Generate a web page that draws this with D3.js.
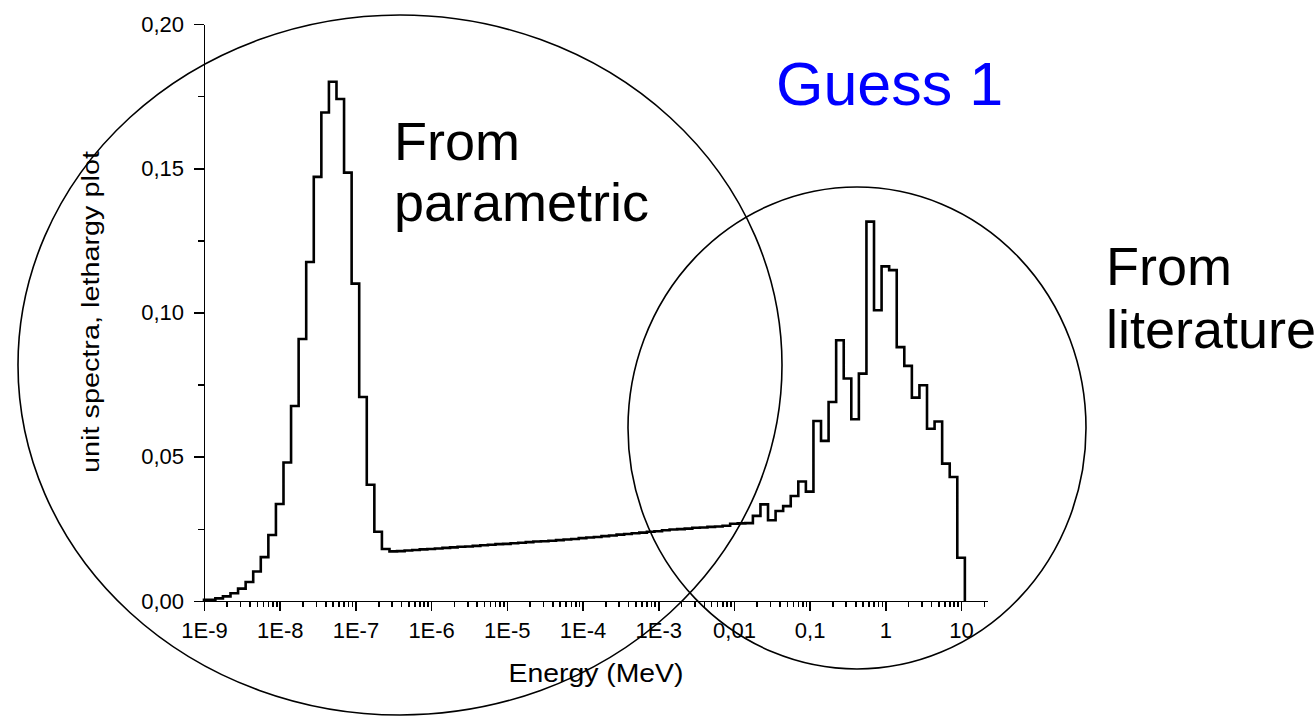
<!DOCTYPE html>
<html>
<head>
<meta charset="utf-8">
<script src="https://cdn.jsdelivr.net/npm/d3@7"></script>
<style>
  html, body { margin: 0; padding: 0; background: #fff; }
  svg { display: block; font-family: "Liberation Sans", Arial, sans-serif; }
  .axis path, .axis line { stroke: #000; stroke-width: 1.6px; shape-rendering: crispEdges; }
  .axis text { fill: #000; font-size: 22px; font-family: "Liberation Sans", Arial, sans-serif; }
</style>
</head>
<body>
<div id="chart"></div>
<script>
// histogram in lethargy, 0.1 decade bins, first edge shifted a bit off the decade
const binStartExp = -8.95;
const binWidthDec = 0.1;
const energyMin = 1e-9;

// thermal peak (bins 0..23)
const thermalValues = [0.0004, 0.0009, 0.0016, 0.0027, 0.0043, 0.0066, 0.0102, 0.0152,
  0.0229, 0.0336, 0.048, 0.0676, 0.0908, 0.1175, 0.147, 0.1693, 0.180, 0.174,
  0.1485, 0.110, 0.0707, 0.0403, 0.024, 0.018];
// 1/E plateau (bins 24..71)
const epithermalValues = [0.0172, 0.0173, 0.0175, 0.0177, 0.0179, 0.0180, 0.0182, 0.0184,
  0.0186, 0.0188, 0.0189, 0.0191, 0.0193, 0.0195, 0.0197, 0.0198, 0.0200, 0.0202,
  0.0204, 0.0206, 0.0207, 0.0209, 0.0211, 0.0213, 0.0215, 0.0218, 0.0220, 0.0222,
  0.0225, 0.0227, 0.0230, 0.0232, 0.0235, 0.0237, 0.0240, 0.0242, 0.0245, 0.0248,
  0.0249, 0.0251, 0.0254, 0.0255, 0.0257, 0.0258, 0.0261, 0.0268, 0.0269, 0.0270];
// fast part (bins 72..99)
const fastValues = [0.0295, 0.0335, 0.028, 0.0312, 0.0329, 0.0364, 0.0414, 0.0379,
  0.0624, 0.0555, 0.069, 0.0904, 0.0771, 0.063, 0.0788, 0.1315, 0.1008, 0.116,
  0.1147, 0.088, 0.0815, 0.0705, 0.0748, 0.0597, 0.0622, 0.0476, 0.043, 0.015];

const xMajorTicks = [1e-9, 1e-8, 1e-7, 1e-6, 1e-5, 1e-4, 1e-3, 1e-2, 1e-1, 1, 10];
const xTickLabels = ["1E-9", "1E-8", "1E-7", "1E-6", "1E-5", "1E-4", "1E-3", "0,01", "0,1", "1", "10"];
const yMajorTicks = [0, 0.05, 0.10, 0.15, 0.20];
const yMinorTicks = [0.025, 0.075, 0.125, 0.175];

const width = 1316;
const height = 718;

const svg = d3.select("#chart").append("svg")
  .attr("width", width)
  .attr("height", height);

const x = d3.scaleLog().domain([energyMin, 22]).range([204, 987]);
const y = d3.scaleLinear().domain([0, 0.20]).range([601, 24]);

// минорные деления по x: 2..9 в каждой декаде
const xMinorTicks = [];
xMajorTicks.forEach((d) => {
  for (let m = 2; m <= 9; m++) {
    const v = d * m;
    if (v <= 22) xMinorTicks.push(v);
  }
});

// ступенчатая линия
const values = thermalValues.concat(epithermalValues, fastValues);
const points = [{ e: energyMin, v: 0 }];
values.forEach((v, i) => {
  const lo = i === 0 ? energyMin : Math.pow(10, binStartExp + binWidthDec * i);
  const hi = Math.pow(10, binStartExp + binWidthDec * (i + 1));
  points.push({ e: lo, v }, { e: hi, v });
});
points.push({ e: Math.pow(10, binStartExp + binWidthDec * values.length), v: 0 });

const line = d3.line()
  .x((d) => x(d.e))
  .y((d) => y(d.v));

// axes
svg.append("g")
  .attr("class", "axis")
  .attr("transform", "translate(0,601)")
  .call(d3.axisBottom(x).tickValues(xMinorTicks).tickSize(6).tickSizeOuter(0).tickFormat(""));

svg.append("g")
  .attr("class", "axis")
  .attr("transform", "translate(0,601)")
  .call(d3.axisBottom(x).tickValues(xMajorTicks).tickSize(10).tickSizeOuter(0).tickPadding(11)
    .tickFormat((d, i) => xTickLabels[i]));

svg.append("g")
  .attr("class", "axis")
  .attr("transform", "translate(204,0)")
  .call(d3.axisLeft(y).tickValues(yMinorTicks).tickSize(6).tickSizeOuter(0).tickFormat(""));

svg.append("g")
  .attr("class", "axis")
  .attr("transform", "translate(204,0)")
  .call(d3.axisLeft(y).tickValues(yMajorTicks).tickSize(10).tickSizeOuter(0).tickPadding(10)
    .tickFormat((d) => d3.format(".2f")(d).replace(".", ",")));

svg.append("path")
  .datum(points)
  .attr("d", line)
  .attr("fill", "none")
  .attr("stroke", "#000")
  .attr("stroke-width", 2.6)
  .attr("stroke-linejoin", "miter");

// axis titles
svg.append("text")
  .attr("transform", "translate(99,312) rotate(-90)")
  .attr("text-anchor", "middle")
  .attr("font-size", 23)
  .attr("textLength", 322)
  .attr("lengthAdjust", "spacingAndGlyphs")
  .text("unit spectra, lethargy plot");

svg.append("text")
  .attr("x", 596)
  .attr("y", 682)
  .attr("text-anchor", "middle")
  .attr("font-size", 25)
  .attr("textLength", 175)
  .attr("lengthAdjust", "spacingAndGlyphs")
  .text("Energy (MeV)");

// annotation ellipses
svg.append("ellipse")
  .attr("cx", 400).attr("cy", 365).attr("rx", 382).attr("ry", 350)
  .attr("fill", "none").attr("stroke", "#000").attr("stroke-width", 1.6);

svg.append("ellipse")
  .attr("cx", 857).attr("cy", 428).attr("rx", 229).attr("ry", 241)
  .attr("fill", "none").attr("stroke", "#000").attr("stroke-width", 1.6);

// annotations
svg.append("text")
  .attr("x", 776).attr("y", 105)
  .attr("font-size", 61)
  .attr("fill", "#0000ff")
  .text("Guess 1");

const leftNote = svg.append("text").attr("font-size", 54).attr("fill", "#000");
leftNote.append("tspan").attr("x", 394).attr("y", 160).text("From");
leftNote.append("tspan").attr("x", 394).attr("y", 221).text("parametric");

const rightNote = svg.append("text").attr("font-size", 54).attr("fill", "#000");
rightNote.append("tspan").attr("x", 1106).attr("y", 285).text("From");
rightNote.append("tspan").attr("x", 1106).attr("y", 348).text("literature");
</script>
</body>
</html>
